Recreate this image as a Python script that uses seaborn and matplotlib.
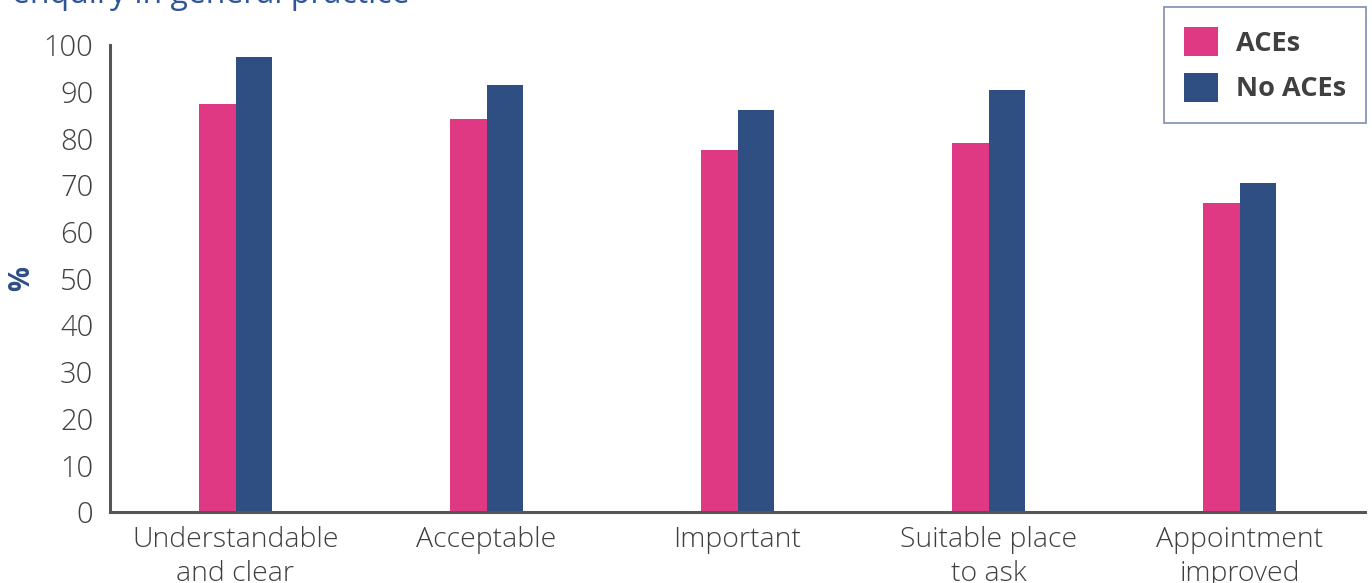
import matplotlib
matplotlib.use("Agg")
import matplotlib.pyplot as plt
import seaborn as sns
import pandas as pd
from matplotlib.patches import Patch

categories = ["Understandable\nand clear", "Acceptable", "Important", "Suitable place\nto ask", "Appointment\nimproved"]
aces = [87.4, 84.2, 77.5, 79.1, 66.2]
no_aces = [97.4, 91.4, 86.1, 90.4, 70.4]
groups = ["ACEs", "No ACEs"]
yticks = [0, 10, 20, 30, 40, 50, 60, 70, 80, 90, 100]

df = pd.DataFrame({
    "category": categories * 2,
    "group": [groups[0]] * len(categories) + [groups[1]] * len(categories),
    "value": aces + no_aces,
})

sns.set_theme(style="white")
plt.rcParams["font.family"] = ["Open Sans", "DejaVu Sans"]

pink = "#E03984"
navy = "#2F4F82"
grey = "#404040"

fig = plt.figure(figsize=(13.72, 5.83), dpi=100)
ax = fig.add_axes([110 / 1372, 71 / 583, 1255 / 1372, 467 / 583])

sns.barplot(data=df, x="category", y="value", hue="group", order=categories,
            hue_order=groups, palette=[pink, navy], width=0.294, saturation=1,
            linewidth=0, ax=ax, legend=False)

ax.set_xlim(-0.5, 4.5)
ax.set_ylim(0, 100)
ax.set_yticks(yticks)
ax.set_yticklabels([str(t) for t in yticks], fontsize=21, color=grey, fontweight="light")
ax.set_xticks(range(len(categories)))
ax.set_xticklabels(categories, fontsize=20.5, color=grey, fontweight="light", linespacing=1.3)
ax.tick_params(axis="both", length=0, pad=12)
ax.tick_params(axis="x", pad=10)
ax.set_xlabel("")
ax.set_ylabel("%", fontsize=20, color=navy, fontweight="bold", va="center")
ax.yaxis.set_label_coords(-0.0705, 0.5)

for s in ["top", "right"]:
    ax.spines[s].set_visible(False)
for s in ["left", "bottom"]:
    ax.spines[s].set_color("#555555")
    ax.spines[s].set_linewidth(2.2)

fig.text(12 / 1372, 1 - 3 / 583, "enquiry in general practice", fontsize=23,
         color="#2F5597", ha="left", va="baseline")

handles = [Patch(facecolor=pink, edgecolor="none"), Patch(facecolor=navy, edgecolor="none")]
leg = fig.legend(handles, groups, loc="upper right", bbox_to_anchor=(1366 / 1372, 1 - 7 / 583),
                 borderaxespad=0, frameon=True, fancybox=False,
                 handlelength=1.25, handleheight=1.25,
                 handletextpad=0.65, borderpad=0.75, labelspacing=0.6,
                 prop={"size": 19.5, "weight": "bold"})
leg.get_frame().set_edgecolor("#5A73A0")
leg.get_frame().set_linewidth(1.2)
for t in leg.get_texts():
    t.set_color(grey)

fig.savefig("out.png", dpi=100)
